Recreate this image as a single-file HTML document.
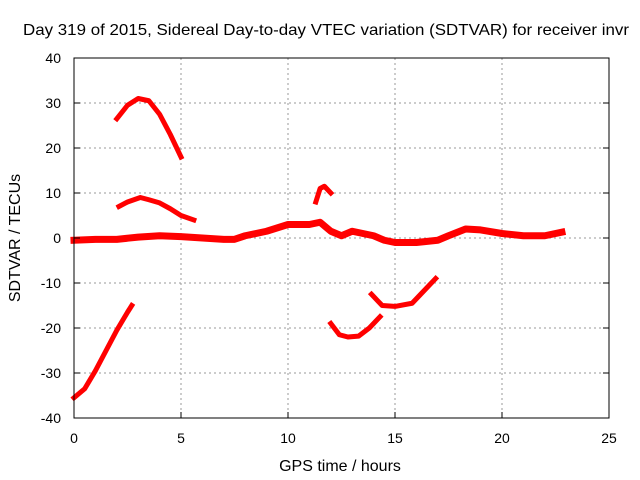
<!DOCTYPE html>
<html><head><meta charset="utf-8"><style>
body{margin:0;background:#fff}
svg{display:block;font-family:"Liberation Sans",sans-serif}
</style></head><body>
<svg id="chart" width="640" height="480" viewBox="0 0 640 480">
<rect width="640" height="480" fill="#fff"/>
<text x="326" y="35" font-size="16" text-anchor="middle" textLength="606" lengthAdjust="spacingAndGlyphs">Day 319 of 2015, Sidereal Day-to-day VTEC variation (SDTVAR) for receiver invr</text>
<g id="grid"></g>
<g id="series"></g>
<rect x="74" y="58" width="535" height="360" fill="none" stroke="#000" stroke-width="1"/>
<g id="ticks"></g>
<text x="340" y="471" font-size="16" text-anchor="middle">GPS time / hours</text>
<text transform="translate(20,238) rotate(-90)" font-size="16" text-anchor="middle">SDTVAR / TECUs</text>
</svg>
<script>
const xTicks=[0,5,10,15,20,25];
const yTicks=[-40,-30,-20,-10,0,10,20,30,40];
const arcT=[2.0,2.5,3.0,3.5,4.0,4.5,5.0];
const arcV=[26.5,29.5,31,30.5,27.5,23,18];
const midT=[2.1,2.5,3.1,3.5,4.0,4.5,5.0,5.6];
const midV=[7,8,9,8.5,7.8,6.5,5,4];
const lowT=[0,0.5,1.0,1.5,2.0,2.5,2.7];
const lowV=[-35.5,-33.5,-29.5,-25,-20.5,-16.5,-15];
const hookT=[11.3,11.5,11.7,12.0];
const hookV=[8,11,11.5,10];
const dipT=[12.0,12.4,12.8,13.3,13.8,14.3];
const dipV=[-19,-21.5,-22,-21.8,-20,-17.5];
const riseT=[13.9,14.4,15.0,15.8,16.3,16.9];
const riseV=[-12.5,-15,-15.2,-14.5,-12,-9];
const mainT=[0,1,2,3,4,5,6,7,7.5,8,9,10,11,11.5,12,12.5,13,14,14.5,15,16,17,17.5,18.3,19,20,21,22,22.8];
const mainV=[-0.5,-0.3,-0.3,0.2,0.5,0.3,0,-0.3,-0.3,0.5,1.5,3,3,3.5,1.5,0.5,1.5,0.5,-0.5,-1,-1,-0.5,0.5,2,1.8,1,0.5,0.5,1.3];
const X=t=>74+t*21.4, Y=v=>238-v*4.5;
const NS="http://www.w3.org/2000/svg";
const grid=document.getElementById('grid'),ticks=document.getElementById('ticks'),ser=document.getElementById('series');
function mk(tag,attrs,parent){const e=document.createElementNS(NS,tag);for(const k in attrs)e.setAttribute(k,attrs[k]);parent.appendChild(e);return e;}
xTicks.forEach(t=>{
 if(t>0&&t<25){const g=mk('line',{x1:X(t),x2:X(t),y1:58,y2:418,stroke:'#999','stroke-dasharray':'2,3'},grid);
 
 }
 const l=mk('line',{x1:X(t),x2:X(t),y1:418,y2:412,stroke:'#000'},ticks);
 
 
 const tx=mk('text',{x:X(t),y:443,'font-size':14,'text-anchor':'middle'},ticks);tx.textContent=t;
 
 
});
yTicks.forEach(v=>{
 if(v>-40&&v<40){const g=mk('line',{x1:74,x2:609,y1:Y(v),y2:Y(v),stroke:'#999','stroke-dasharray':'2,3'},grid);
 
 }
 const l=mk('line',{x1:74,x2:80,y1:Y(v),y2:Y(v),stroke:'#000'},ticks);
 
 
 const l2=mk('line',{x1:603,x2:609,y1:Y(v),y2:Y(v),stroke:'#000'},ticks);
 
 
 const tx=mk('text',{x:61,y:Y(v)+5,'font-size':14,'text-anchor':'end'},ticks);tx.textContent=v;
 
 
});
function line(T,V,w,name){
 const p=mk('polyline',{points:T.map((t,i)=>X(t)+','+Y(V[i])).join(' '),fill:'none',stroke:'#ff0000','stroke-width':w,'stroke-linejoin':'round','stroke-linecap':'square'},ser);
 
 
}
line(mainT,mainV,7,'series-main');
line(arcT,arcV,5,'series-arc');
line(midT,midV,5,'series-mid');
line(lowT,lowV,5,'series-low');
line(hookT,hookV,5,'series-hook');
line(dipT,dipV,5,'series-dip');
line(riseT,riseV,5,'series-rise');
</script>
</body></html>
